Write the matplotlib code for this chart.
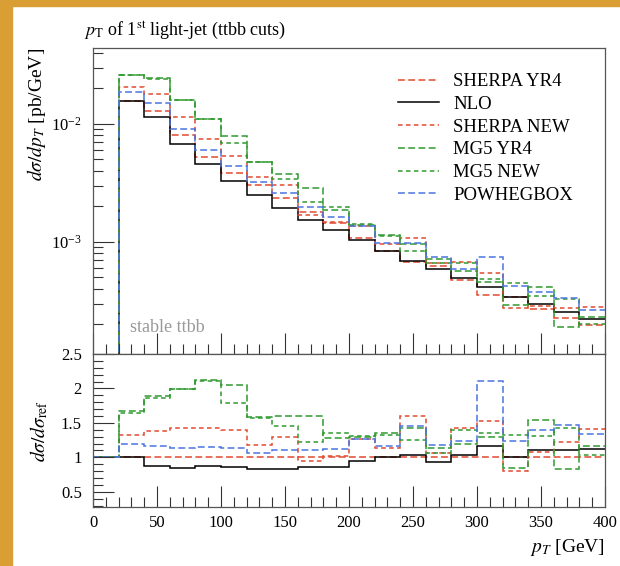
import numpy as np
import matplotlib
matplotlib.use("Agg")
import matplotlib.pyplot as plt
from matplotlib.ticker import MultipleLocator, LogLocator, NullFormatter

plt.rcParams["font.family"] = ["Liberation Serif", "DejaVu Serif"]
plt.rcParams["mathtext.fontset"] = "stix"

# bin edges (GeV); the 0-20 bin is empty
EDGES = [0, 20, 40, 60, 80, 100, 120, 140, 160, 180, 200, 220, 240, 260,
         280, 300, 320, 340, 360, 380, 400]

# dsigma/dpT [pb/GeV] per bin
SHERPA_YR4 = [0, 0.0157, 0.01295, 0.00801, 0.00523, 0.00383, 0.00301, 0.00235, 0.00178,
              0.00145, 0.00108, 0.000843, 0.00067, 0.000628, 0.000476, 0.000356,
              0.000341, 0.000267, 0.000227, 0.000197]
NLO = [0, 0.0157, 0.0114, 0.00677, 0.00455, 0.00329, 0.0025, 0.00195, 0.00153,
       0.00125, 0.00103, 0.000843, 0.00069, 0.00059, 0.000495, 0.000413,
       0.000344, 0.000296, 0.000252, 0.000221]
SHERPA_NEW = [0, 0.0207, 0.0179, 0.01137, 0.00743, 0.00536, 0.00355, 0.00306, 0.00169,
              0.00147, 0.00137, 0.000961, 0.00107, 0.000666, 0.000681, 0.000545,
              0.000273, 0.000286, 0.000277, 0.000278]
MG5_YR4 = [0, 0.0262, 0.0244, 0.0160, 0.0111, 0.00785, 0.00476, 0.00376, 0.00285,
           0.00186, 0.00140, 0.00114, 0.000951, 0.000716, 0.000566, 0.000459,
           0.00029, 0.000411, 0.000188, 0.00023]
MG5_NEW = [0, 0.0259, 0.0241, 0.0159, 0.0110, 0.00686, 0.00473, 0.00341, 0.00219,
           0.00197, 0.00142, 0.00112, 0.000838, 0.000666, 0.000666, 0.000484,
           0.00045, 0.00035, 0.000325, 0.000203]
POWHEG = [0, 0.01865, 0.0150, 0.00905, 0.00602, 0.00437, 0.00322, 0.00261, 0.00198,
          0.00162, 0.00137, 0.000986, 0.000978, 0.000741, 0.00059, 0.000748,
          0.000423, 0.000374, 0.000334, 0.000264]

RED = "#e2492f"
GREEN = "#2f9a2f"
BLUE = "#4a74e0"

series = [
    ("SHERPA YR4", SHERPA_YR4, RED, (0, (4.5, 2.2))),
    ("NLO", NLO, "black", "-"),
    ("SHERPA NEW", SHERPA_NEW, RED, (0, (3, 2.2))),
    ("MG5 YR4", MG5_YR4, GREEN, (0, (4.5, 2.2))),
    ("MG5 NEW", MG5_NEW, GREEN, (0, (3, 2.2))),
    ("POWHEGBOX", POWHEG, BLUE, (0, (4.5, 2.2))),
]

W, H = 620, 566
fig = plt.figure(figsize=(W / 100, H / 100), dpi=100)

# orange page border strips
fig.patches.append(plt.Rectangle((0, 0), 12 / W, 1, transform=fig.transFigure,
                                 color="#d99f34", zorder=-1))
fig.patches.append(plt.Rectangle((0, 1 - 6 / H), 1, 6 / H, transform=fig.transFigure,
                                 color="#d99f34", zorder=-1))

L, R = 93 / W, 605 / W
ax = fig.add_axes([L, 1 - 354 / H, R - L, (354 - 48) / H])
rax = fig.add_axes([L, 1 - 507 / H, R - L, (507 - 354) / H])

ref = np.array(SHERPA_YR4, dtype=float)
for name, vals, col, ls in series:
    v = np.array(vals, dtype=float)
    ax.stairs(v, EDGES, baseline=None, color=col, linestyle=ls, lw=1.1, label=name)
    ratio = np.divide(v, ref, out=np.ones_like(v), where=ref > 0)
    rax.stairs(ratio, EDGES, baseline=None, color=col, linestyle=ls, lw=1.1)

ax.set_yscale("log", nonpositive="clip")
ax.set_xlim(0, 400)
ax.set_ylim(1.12e-4, 0.044)
rax.set_xlim(0, 400)
rax.set_ylim(0.28, 2.5)

tick_kw = dict(direction="in", color="#333333")
for a in (ax, rax):
    a.xaxis.set_major_locator(MultipleLocator(50))
    a.xaxis.set_minor_locator(MultipleLocator(10))
    a.tick_params(which="major", length=15, width=0.8, labelsize=12, **tick_kw)
    a.tick_params(which="minor", length=7, width=0.8, **tick_kw)
    a.tick_params(top=False, right=False, which="both")
    a.tick_params(axis="y", pad=8)
    for s in a.spines.values():
        s.set_color("#555555")
        s.set_linewidth(0.9)

ax.tick_params(labelbottom=False)
ax.yaxis.set_major_locator(LogLocator(base=10))
ax.yaxis.set_minor_locator(LogLocator(base=10, subs=np.arange(2, 10)))
ax.yaxis.set_minor_formatter(NullFormatter())

rax.yaxis.set_major_locator(MultipleLocator(0.5))
rax.yaxis.set_minor_locator(MultipleLocator(0.1))
rax.set_yticks([0.5, 1, 1.5, 2, 2.5])
rax.set_yticklabels(["0.5", "1", "1.5", "2", "2.5"])
rax.tick_params(axis="x", pad=6)

ax.set_ylabel(r"$d\sigma/dp_T$ [pb/GeV]", loc="top", fontsize=14, labelpad=2)
rax.set_ylabel(r"$d\sigma/d\sigma_\mathrm{ref}$", fontsize=14, labelpad=8)
rax.set_xlabel(r"$p_T$ [GeV]", loc="right", fontsize=14, labelpad=4)

fig.text(84 / W, 1 - 30 / H, r"$p_\mathrm{T}$ of 1$^\mathrm{st}$ light-jet (ttbb cuts)",
         fontsize=13, ha="left", va="center")
ax.text(0.073, 0.085, "stable ttbb", transform=ax.transAxes, color="#999999",
        fontsize=13, ha="left", va="center")

leg = ax.legend(loc="upper left", bbox_to_anchor=((398 - 93) / 512, 1 - 25 / 306),
                frameon=False, fontsize=13.5, handlelength=2.2, handletextpad=0.75,
                labelspacing=0.30, borderpad=0, borderaxespad=0)

fig.savefig("out.png", dpi=100)
